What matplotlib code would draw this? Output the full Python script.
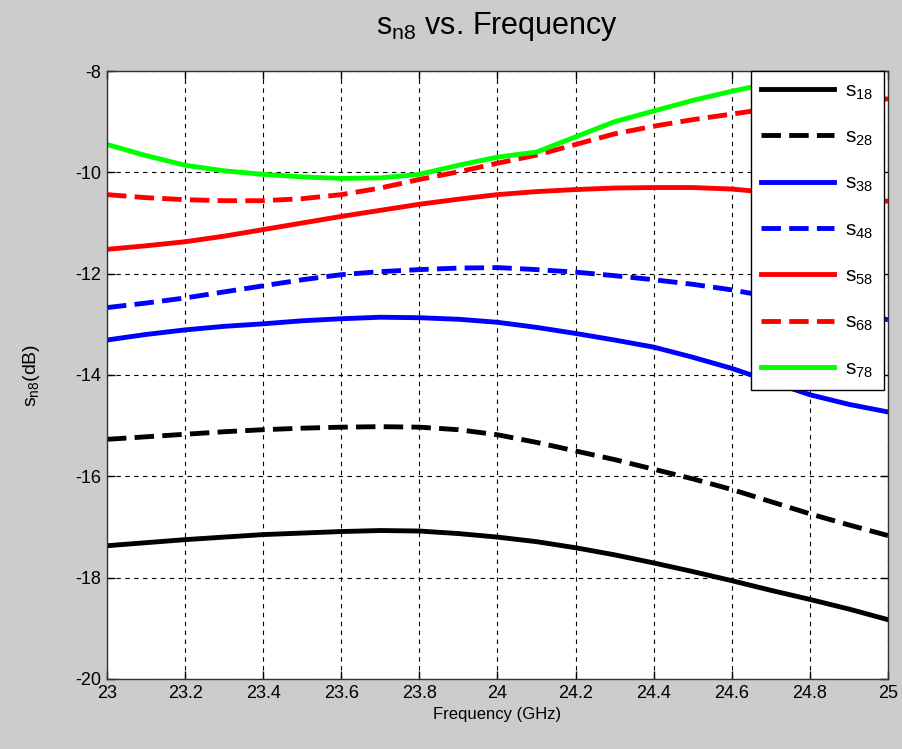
import matplotlib
matplotlib.use("Agg")
import matplotlib.pyplot as plt

plt.rcParams['font.family'] = ['Liberation Sans', 'DejaVu Sans']
plt.rcParams['mathtext.fontset'] = 'custom'
plt.rcParams['mathtext.rm'] = 'Liberation Sans'
plt.rcParams['mathtext.it'] = 'Liberation Sans'
plt.rcParams['axes.unicode_minus'] = False

freq = [23.0, 23.1, 23.2, 23.3, 23.4, 23.5, 23.6, 23.7, 23.8, 23.9, 24.0,
        24.1, 24.2, 24.3, 24.4, 24.5, 24.6, 24.7, 24.8, 24.9, 25.0]

s18 = [-17.37, -17.31, -17.25, -17.20, -17.15, -17.12, -17.09, -17.07, -17.08, -17.13, -17.20,
       -17.29, -17.41, -17.55, -17.71, -17.88, -18.06, -18.25, -18.43, -18.62, -18.83]
s28 = [-15.27, -15.22, -15.17, -15.12, -15.08, -15.05, -15.03, -15.02, -15.03, -15.08, -15.18,
       -15.33, -15.50, -15.67, -15.86, -16.05, -16.26, -16.50, -16.74, -16.96, -17.17]
s38 = [-13.31, -13.20, -13.11, -13.04, -12.99, -12.93, -12.89, -12.86, -12.87, -12.90, -12.96,
       -13.06, -13.18, -13.31, -13.45, -13.65, -13.87, -14.13, -14.39, -14.58, -14.73]
s48 = [-12.67, -12.58, -12.48, -12.36, -12.24, -12.12, -12.02, -11.96, -11.92, -11.89, -11.88,
       -11.92, -11.97, -12.04, -12.12, -12.21, -12.32, -12.46, -12.60, -12.75, -12.91]
s58 = [-11.52, -11.45, -11.37, -11.26, -11.13, -11.00, -10.87, -10.75, -10.63, -10.53, -10.44,
       -10.38, -10.34, -10.31, -10.30, -10.30, -10.33, -10.40, -10.46, -10.52, -10.57]
s68 = [-10.44, -10.50, -10.54, -10.56, -10.56, -10.52, -10.44, -10.31, -10.14, -9.99, -9.82,
       -9.66, -9.45, -9.24, -9.09, -8.96, -8.85, -8.74, -8.65, -8.59, -8.55]
s78 = [-9.45, -9.67, -9.86, -9.97, -10.04, -10.09, -10.12, -10.11, -10.04, -9.86, -9.70,
       -9.60, -9.30, -9.00, -8.79, -8.58, -8.40, -8.24, -8.12, -8.03, -7.96]

series = [s18, s28, s38, s48, s58, s68, s78]
labels = ['18', '28', '38', '48', '58', '68', '78']
colors = ['black', 'black', 'blue', 'blue', 'red', 'red', '#00ff00']
styles = ['-', '--', '-', '--', '-', '--', '-']

xticks = [23, 23.2, 23.4, 23.6, 23.8, 24, 24.2, 24.4, 24.6, 24.8, 25]
xticklabels = ['23', '23.2', '23.4', '23.6', '23.8', '24', '24.2', '24.4', '24.6', '24.8', '25']
yticks = [-20, -18, -16, -14, -12, -10, -8]

fig = plt.figure(figsize=(9.02, 7.49), dpi=100, facecolor='#cccccc')
ax = fig.add_axes([0.1186, 0.0935, 0.8659, 0.8117])

for y, lab, c, ls in zip(series, labels, colors, styles):
    kw = dict(dashes=(4, 1.7)) if ls == '--' else {}
    ax.plot(freq, y, color=c, linestyle=ls, linewidth=3.5,
            label=r'$\mathregular{s_{%s}}$' % lab, **kw)

ax.set_xlim(23, 25)
ax.set_ylim(-20, -8)
ax.set_xticks(xticks)
ax.set_xticklabels(xticklabels)
ax.set_yticks(yticks)
ax.tick_params(direction='in', length=6, width=1, top=True, right=True,
               labelsize=13, pad=4)
ax.grid(True, color='black', linestyle=(0, (4, 4)), linewidth=0.8)
for sp in ax.spines.values():
    sp.set_linewidth(1.0)
    sp.set_color('#333333')

ax.set_title(r'$\mathregular{s_{n8}}$ vs. Frequency', fontsize=22, pad=27)
ax.set_xlabel('Frequency (GHz)', fontsize=12, labelpad=4)
ax.set_ylabel(r'$\mathregular{s_{n8}}$(dB)', fontsize=14, labelpad=24)

leg = ax.legend(loc='upper right', bbox_to_anchor=(0.995, 1.0), fontsize=15,
                handlelength=3.5, handletextpad=0.55, labelspacing=1.25,
                borderaxespad=0.0, fancybox=False, framealpha=1,
                edgecolor='black', borderpad=0.5)
leg.get_frame().set_linewidth(1.0)

fig.savefig('out.png', dpi=100, facecolor=fig.get_facecolor())
